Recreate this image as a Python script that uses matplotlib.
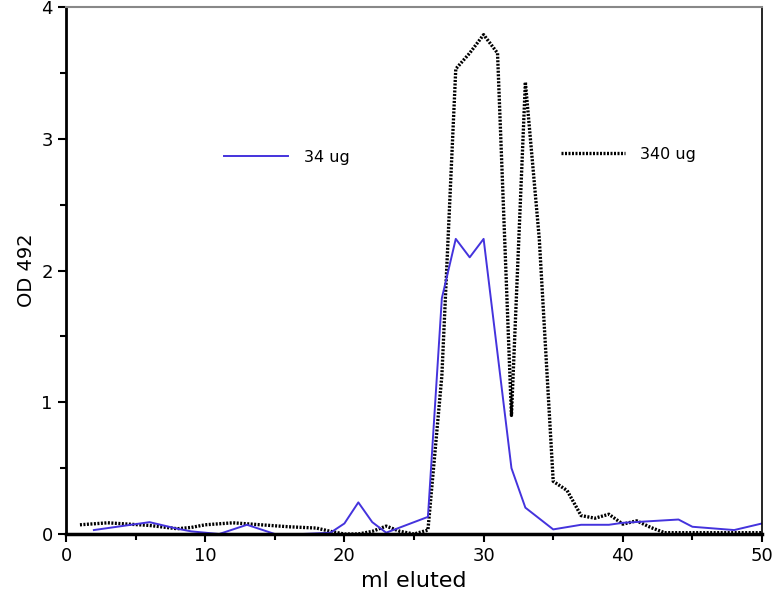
import numpy as np
from matplotlib import pyplot as plt
from matplotlib.lines import Line2D

# 34 ug run
blue_x = [2, 6, 8, 9, 11, 13, 15, 17, 19, 20, 21, 22, 23, 26, 27, 28, 29, 30,
          32, 33, 35, 37, 39, 40, 44, 45, 48, 50]
blue_y = [0.03, 0.09, 0.04, 0.02, 0.0, 0.07, 0.0, 0.0, 0.01, 0.08, 0.24, 0.09,
          0.01, 0.13, 1.79, 2.24, 2.10, 2.24, 0.50, 0.20, 0.035, 0.07, 0.07,
          0.085, 0.11, 0.055, 0.03, 0.08]

# 340 ug run
black_x = [1, 3, 6, 8, 9, 10, 12, 14, 16, 18, 19, 20, 21, 22, 23, 24, 25, 26,
           27, 28, 29, 30, 31, 32, 33, 34, 35, 36, 37, 38, 39, 40, 41, 42, 43,
           45, 50]
black_y = [0.07, 0.085, 0.065, 0.04, 0.05, 0.07, 0.085, 0.07, 0.055, 0.045,
           0.02, 0.0, 0.0, 0.02, 0.06, 0.02, 0.0, 0.03, 1.2, 3.53, 3.65, 3.79,
           3.65, 0.90, 3.43, 2.24, 0.40, 0.33, 0.14, 0.12, 0.15, 0.075, 0.10,
           0.05, 0.01, 0.01, 0.01]

blue = '#4433dd'
dots = (0, (0.6, 0.45))

fig = plt.figure(figsize=(7.74, 5.99), dpi=100)
ax = fig.add_axes([0.0853, 0.1085, 0.8992, 0.8798])

ax.plot(black_x, black_y, color='black', lw=2.4, linestyle=dots)
ax.plot(blue_x, blue_y, color=blue, lw=1.4)

ax.set_xlim(0, 50)
ax.set_ylim(0, 4)
ax.set_xticks([0, 10, 20, 30, 40, 50])
ax.set_xticks([5, 15, 25, 35, 45], minor=True)
ax.set_yticks([0, 1, 2, 3, 4])
ax.set_yticks([0.5, 1.5, 2.5, 3.5], minor=True)
ax.tick_params(which='both', direction='out', labelsize=13, width=1.5)
ax.tick_params(which='major', length=6)
ax.tick_params(which='minor', length=4)

ax.spines['left'].set_linewidth(2)
ax.spines['bottom'].set_linewidth(2.5)
ax.spines['top'].set_color('#888888')
ax.spines['top'].set_linewidth(1.5)
ax.spines['right'].set_linewidth(1.2)

ax.set_xlabel('ml eluted', fontsize=16)
ax.set_ylabel('OD 492', fontsize=14)

h1 = [Line2D([], [], color=blue, lw=1.4)]
h2 = [Line2D([], [], color='black', lw=2.4, linestyle=dots)]
leg1 = ax.legend(h1, ['34 ug'], loc='center left', bbox_to_anchor=(0.207, 0.715),
                 frameon=False, fontsize=11.5, handlelength=4.0, handletextpad=1.0)
ax.add_artist(leg1)
ax.legend(h2, ['340 ug'], loc='center left', bbox_to_anchor=(0.69, 0.72),
          frameon=False, fontsize=11.5, handlelength=4.0, handletextpad=1.0)

fig.savefig('out.png', dpi=100)
